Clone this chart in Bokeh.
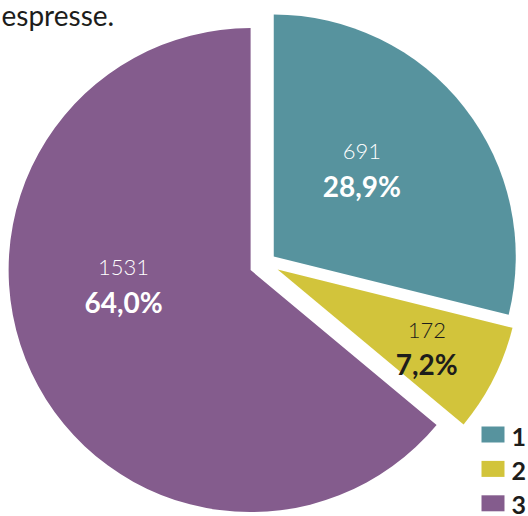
import math
from bokeh.plotting import figure
from bokeh.models import Range1d, ColumnDataSource
from bokeh.core.properties import value
from bokeh.embed import file_html
from bokeh.resources import INLINE

# ---- data ----
categories = ["1", "2", "3"]
counts = [691, 172, 1531]
colors = ["#57939e", "#d2c43b", "#845c8d"]
text_colors = ["#ffffff", "#1d1d1b", "#ffffff"]
title_text = "espresse."

# ---- layout / style ----
W, H = 528, 516
CX, CY = 264.6, 262.8   # pie centre (page px)
R = 242
explode = [11, 14, 16]
label_r = [119, 172, 129]
label_shift = [4.2, -3.0, -15.1]
TXT_UP = 7  # baseline correction for rendered text (px)

p = figure(width=W, height=H, output_backend="svg", toolbar_location=None,
           x_range=Range1d(0, W), y_range=Range1d(0, H),
           x_axis_location=None, y_axis_location=None, min_border=0,
           background_fill_color="white", border_fill_color="white")
p.outline_line_color = None
p.grid.visible = False


def to_data_y(page_y):
    return H - page_y


total = sum(counts)
cx, cy = CX, to_data_y(CY)
xs, ys, starts, ends = [], [], [], []
lx, ly_num, ly_pct, nums, pcts = [], [], [], [], []
cum = 0.0
for i, v in enumerate(counts):
    a0 = cum / total * 360.0
    cum += v
    a1 = cum / total * 360.0
    mid = math.radians(90 - (a0 + a1) / 2)
    x0 = cx + explode[i] * math.cos(mid)
    y0 = cy + explode[i] * math.sin(mid)
    xs.append(x0); ys.append(y0)
    starts.append(math.radians(90 - a1)); ends.append(math.radians(90 - a0))
    la = mid + math.radians(label_shift[i])
    ax = x0 + label_r[i] * math.cos(la)
    ay = y0 + label_r[i] * math.sin(la)
    lx.append(ax); ly_num.append(ay + 18 + TXT_UP); ly_pct.append(ay - 16 + TXT_UP)
    nums.append(str(v))
    pcts.append(f"{v / total * 100:.1f}".replace(".", ",") + "%")

src = ColumnDataSource(dict(x=xs, y=ys, start=starts, end=ends, color=colors,
                            lx=lx, lyn=ly_num, lyp=ly_pct, num=nums, pct=pcts,
                            tc=text_colors))
p.wedge(x="x", y="y", radius=R, start_angle="start", end_angle="end",
        direction="anticlock", fill_color="color", line_color=None, source=src)

p.text(x="lx", y="lyn", text="num", text_color="tc", text_font=value("Lato Light"),
       text_font_size="22px", text_align="center", text_baseline="alphabetic", source=src)
p.text(x="lx", y="lyp", text="pct", text_color="tc", text_font=value("Lato"),
       text_font_style="bold", text_font_size="28px", text_align="center",
       text_baseline="alphabetic", source=src)

# legend
leg_x = 492.5
leg_y0 = 434
leg_step = 34.4
leg_ys = [to_data_y(leg_y0 + i * leg_step) for i in range(len(categories))]
lsrc = ColumnDataSource(dict(x=[leg_x] * 3, y=leg_ys, color=colors, cat=categories,
                             tx=[511] * 3, ty=[y - 9 + TXT_UP for y in leg_ys]))
p.rect(x="x", y="y", width=23, height=16, fill_color="color", line_color=None, source=lsrc)
p.text(x="tx", y="ty", text="cat", text_color="#1d1d1b", text_font=value("Lato"),
       text_font_style="bold", text_font_size="25px", text_align="left",
       text_baseline="alphabetic", source=lsrc)

# cut-off caption text
p.text(x=[1], y=[to_data_y(21.7) + TXT_UP], text=[title_text], text_color="#1d1d1b",
       text_font=value("Lato"), text_font_size="28px", text_align="left",
       text_baseline="alphabetic")

open("out.html", "w").write(file_html(p, INLINE))
